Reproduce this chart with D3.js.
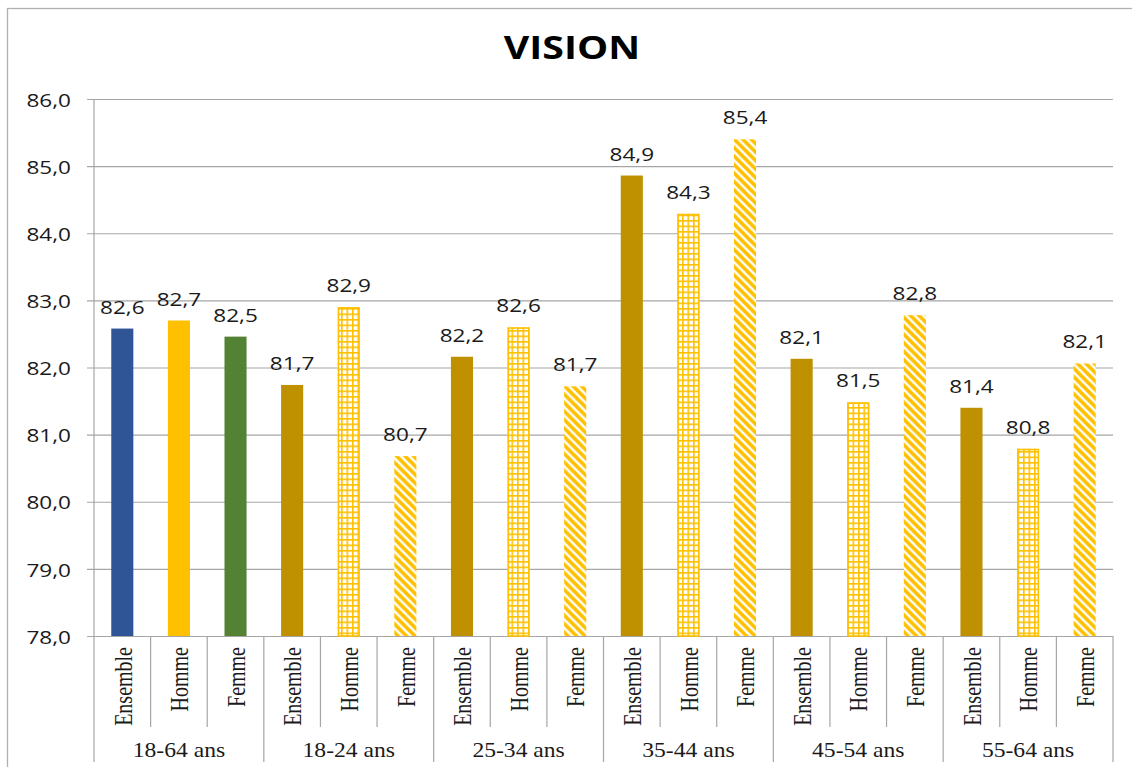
<!DOCTYPE html>
<html><head><meta charset="utf-8">
<script src="https://cdn.jsdelivr.net/npm/d3@7"></script>
<style>html,body{margin:0;padding:0;background:#fff;}svg{display:block;}</style>
</head><body>
<svg id="chart" width="1132" height="767"></svg>
<script>
const title = "VISION";
const groups = ["18-64 ans","18-24 ans","25-34 ans","35-44 ans","45-54 ans","55-64 ans"];
const categories = ["Ensemble","Homme","Femme"];
const ensembleValues = [82.58, 81.74, 82.16, 84.86, 82.13, 81.40];
const hommeValues    = [82.70, 82.90, 82.60, 84.29, 81.48, 80.79];
const femmeValues    = [82.46, 80.68, 81.72, 85.40, 82.78, 82.06];
const yTicks = [78, 79, 80, 81, 82, 83, 84, 85, 86];

const W = 1132, H = 767;
const plot = {left: 94, right: 1113, top: 99, bottom: 636};
const KX = 1.22;
const gridColor = "#a6a6a6";

const svg = d3.select("#chart");
const defs = svg.append("defs");

// grid pattern (Homme)
const gs = 5.5;
const pg = defs.append("pattern").attr("id","gridPat").attr("patternUnits","userSpaceOnUse")
  .attr("width",gs).attr("height",gs);
pg.append("rect").attr("width",gs).attr("height",gs).attr("fill","#fff");
pg.append("path").attr("d",`M0.8,0 V${gs} M0,0.8 H${gs}`).attr("stroke","#FFC000").attr("stroke-width",1.6);

// diagonal pattern (Femme)
const ds = 8.5;
const pd = defs.append("pattern").attr("id","diagPat").attr("patternUnits","userSpaceOnUse")
  .attr("width",ds).attr("height",ds);
pd.append("rect").attr("width",ds).attr("height",ds).attr("fill","#fff");
pd.append("path").attr("d",`M-2,-2 L${ds+2},${ds+2} M-2,${ds-2} L2,${ds+2} M${ds-2},-2 L${ds+2},2`)
  .attr("stroke","#FFC000").attr("stroke-width",3.6);

// flatten data
const rows = [];
groups.forEach((g, gi) => {
  categories.forEach((c, ci) => {
    const v = [ensembleValues, hommeValues, femmeValues][ci][gi];
    let fill;
    if (gi === 0) fill = ["#2F5597","#FFC000","#548235"][ci];
    else fill = ["#BF9000","url(#gridPat)","url(#diagPat)"][ci];
    rows.push({key: gi + "-" + ci, group: g, gi, cat: c, ci, value: v, fill, patterned: gi > 0 && ci > 0});
  });
});

const x = d3.scaleBand().domain(rows.map(d => d.key)).range([plot.left, plot.right])
  .paddingInner(0.61).paddingOuter(0.305);
const y = d3.scaleLinear().domain([78, 86]).range([plot.bottom, plot.top]);

// outer border
svg.append("rect").attr("x",7.5).attr("y",8.5).attr("width",1140).attr("height",780)
  .attr("fill","none").attr("stroke","#b0b0b0").attr("stroke-width",1.3);

// title
svg.append("text").attr("transform",`translate(572,59) scale(${1.19},1)`)
  .attr("text-anchor","middle").attr("font-family","'Open Sans', sans-serif")
  .attr("font-weight",700).attr("font-size",33).attr("fill","#000").text(title);

// gridlines via axis
const yAxis = d3.axisLeft(y).tickValues(yTicks).tickSize(-(plot.right - plot.left) - 7)
  .tickFormat(d => d3.format(".1f")(d).replace(".", ","));
const gy = svg.append("g").attr("transform",`translate(${plot.left - 7},0)`).call(yAxis);
gy.select(".domain").remove();
gy.selectAll(".tick line").attr("stroke", gridColor).attr("stroke-width",1.2)
  .attr("x1", 0).attr("x2", plot.right - plot.left + 7);
gy.selectAll(".tick text").attr("x", null).attr("dy", null)
  .attr("font-family","'Open Sans', sans-serif").attr("font-size",18.5).attr("fill","#1a1a1a")
  .attr("text-anchor","end").attr("dominant-baseline","central")
  .attr("transform", `translate(-16,0) scale(${KX},1)`);

// left axis line
svg.append("line").attr("x1",plot.left).attr("x2",plot.left).attr("y1",plot.top).attr("y2",762)
  .attr("stroke",gridColor).attr("stroke-width",1.2);

// category separators
const step = x.step();
for (let i = 1; i <= rows.length; i++) {
  const xx = plot.left + i * step;
  const isGroup = i % 3 === 0;
  svg.append("line").attr("x1",xx).attr("x2",xx).attr("y1",plot.bottom).attr("y2", isGroup ? 762 : 727)
    .attr("stroke",gridColor).attr("stroke-width",1.2);
}

// bars
svg.append("g").selectAll("rect").data(rows).join("rect")
  .attr("x", d => x(d.key)).attr("width", x.bandwidth())
  .attr("y", d => y(d.value)).attr("height", d => y(78) - y(d.value))
  .attr("fill", d => d.fill);
// outline on grid bars
svg.append("g").selectAll("rect").data(rows.filter(d => d.patterned && d.ci === 1)).join("rect")
  .attr("x", d => x(d.key) + 0.8).attr("width", x.bandwidth() - 1.6)
  .attr("y", d => y(d.value) + 0.8).attr("height", d => y(78) - y(d.value) - 0.8)
  .attr("fill","none").attr("stroke","#FFC000").attr("stroke-width",1.6);

// value labels
svg.append("g").selectAll("text").data(rows).join("text")
  .attr("transform", d => `translate(${x(d.key) + x.bandwidth()/2},${y(d.value) - 15}) scale(${KX},1)`)
  .attr("text-anchor","middle").attr("font-family","'Open Sans', sans-serif")
  .attr("font-size",18.5).attr("fill","#1a1a1a")
  .text(d => d3.format(".1f")(d.value).replace(".", ","));

// category labels (rotated)
svg.append("g").selectAll("text").data(rows).join("text")
  .attr("transform", d => `translate(${x(d.key) + x.bandwidth()/2 + 1},647) scale(${KX},1) rotate(-90)`)
  .attr("text-anchor","end").attr("dominant-baseline","central")
  .attr("font-family","'Liberation Serif', 'Times New Roman', serif")
  .attr("font-size",20).attr("fill","#1a1a1a").text(d => d.cat);

// group labels
svg.append("g").selectAll("text").data(groups).join("text")
  .attr("transform", (d, i) => `translate(${plot.left + (i * 3 + 1.5) * step},757) scale(${1.18},1)`)
  .attr("text-anchor","middle")
  .attr("font-family","'Liberation Serif', 'Times New Roman', serif")
  .attr("font-size",20).attr("fill","#1a1a1a").text(d => d);
</script>
</body></html>
